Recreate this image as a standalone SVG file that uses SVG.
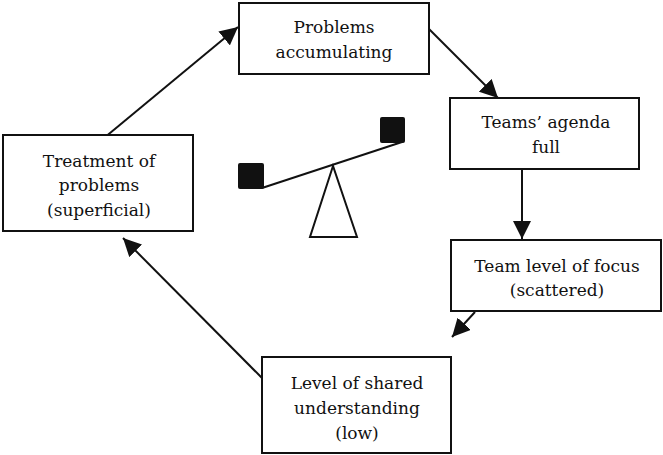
<svg xmlns="http://www.w3.org/2000/svg" width="663" height="455" viewBox="0 0 663 455">
<style>
.box{fill:#fff;stroke:#111;stroke-width:2}
.lbl{font-family:'DejaVu Serif',serif;font-size:17px;fill:#111;text-anchor:middle}
</style>
<defs>
<marker id="ah2" viewBox="0 0 10 10" refX="10" refY="5" markerWidth="18" markerHeight="18" markerUnits="userSpaceOnUse" orient="auto">
<path d="M0,0 L10,5 L0,10 z" fill="#111"/>
</marker>
</defs>
<rect width="663" height="455" fill="#fff"/>
<g id="connectors" stroke="#111" stroke-width="2" marker-end="url(#ah2)">
<line x1="98" y1="143" x2="238" y2="27"/>
<line x1="428" y1="28" x2="498" y2="98"/>
<line x1="522" y1="169" x2="522" y2="239"/>
<line x1="475" y1="312" x2="452" y2="337"/>
<line x1="262" y1="378" x2="123" y2="238"/>
</g>
<g id="n-problems">
<rect class="box" x="239" y="3" width="190" height="71"/>
<text class="lbl" x="334" y="33">Problems</text>
<text class="lbl" x="334" y="58">accumulating</text>
</g>
<g id="n-agenda">
<rect class="box" x="450" y="98" width="189" height="71"/>
<text class="lbl" x="546" y="128">Teams’ agenda</text>
<text class="lbl" x="546" y="153">full</text>
</g>
<g id="n-focus">
<rect class="box" x="451" y="240" width="210" height="71"/>
<text class="lbl" x="557" y="272">Team level of focus</text>
<text class="lbl" x="557" y="296">(scattered)</text>
</g>
<g id="n-shared">
<rect class="box" x="262" y="357" width="189" height="96"/>
<text class="lbl" x="357" y="389">Level of shared</text>
<text class="lbl" x="357" y="414">understanding</text>
<text class="lbl" x="357" y="439">(low)</text>
</g>
<g id="n-treatment">
<rect class="box" x="3" y="135" width="190" height="96"/>
<text class="lbl" x="99" y="167">Treatment of</text>
<text class="lbl" x="99" y="191">problems</text>
<text class="lbl" x="99" y="216">(superficial)</text>
</g>
<g id="seesaw">
<line x1="262" y1="188" x2="402" y2="142" stroke="#111" stroke-width="2"/>
<rect x="238" y="163" width="26" height="26" rx="2" fill="#111"/>
<rect x="380" y="117" width="25" height="26" rx="2" fill="#111"/>
<polygon points="333,166 310,237 357,237" fill="#fff" stroke="#111" stroke-width="2"/>
</g>
</svg>
